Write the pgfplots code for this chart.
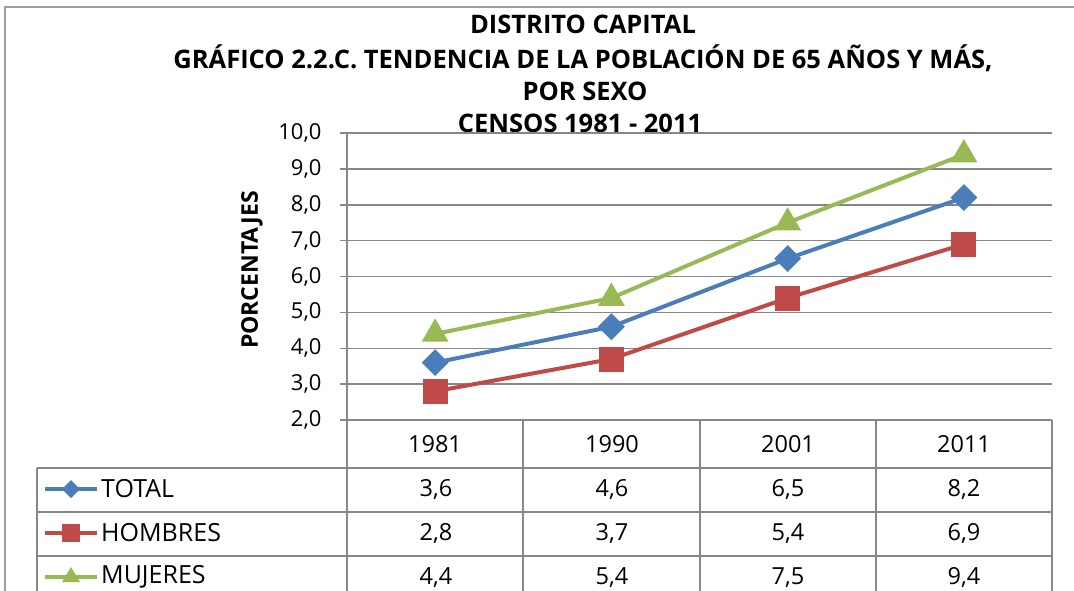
\documentclass[border=0pt]{standalone}
\usepackage{pgfplots}
\pgfplotsset{compat=1.18}
\usepackage{fontspec}
\setmainfont{Open Sans}
\definecolor{cTot}{HTML}{4A7EBB}
\definecolor{cHom}{HTML}{BE4B48}
\definecolor{cMuj}{HTML}{98B954}
\definecolor{grd}{HTML}{878787}

\pgfplotstableread{
x    tot  hom  muj
0.5  3.6  2.8  4.4
1.5  4.6  3.7  5.4
2.5  6.5  5.4  7.5
3.5  8.2  6.9  9.4
}\datos

\begin{document}
\begin{tikzpicture}[x=1bp,y=1bp]
\useasboundingbox (0,0) rectangle (1074,-591);
% outer frame
\draw[grd!80, line width=1.5bp] (5,-620) -- (5,-7) -- (1090,-7);
% title
\tikzset{ttl/.style={font=\bfseries\fontsize{25.5bp}{30bp}\selectfont, inner sep=0pt}}
\node[ttl] at (583,-24) {DISTRITO CAPITAL};
\node[ttl] at (583,-58) {GRÁFICO 2.2.C. TENDENCIA DE LA POBLACIÓN DE 65 AÑOS Y MÁS,};
\node[ttl] at (585,-91) {POR SEXO};
\node[ttl] at (580,-123) {CENSOS 1981 - 2011};
% y label
\node[font=\bfseries\fontsize{23bp}{27bp}\selectfont, rotate=90] at (252,-270) {PORCENTAJES};

\begin{axis}[
  at={(347bp,-420bp)}, anchor=south west,
  scale only axis, width=705bp, height=287bp,
  xmin=0, xmax=4, ymin=2, ymax=10,
  ytick={2,3,...,10},
  hide x axis,
  axis y line*=left,
  y axis line style={-, grd, line width=1.5bp},
  ymajorgrids,
  grid style={grd, line width=1.5bp},
  major tick style={grd, line width=1.5bp},
  tick align=outside,
  major tick length=7bp,
  yticklabel style={font=\fontsize{22bp}{26bp}\selectfont, xshift=-15bp, /pgf/number format/.cd, fixed, fixed zerofill, precision=1, use comma},
  /pgf/number format/assume math mode=true,
  clip=false,
]
\addplot[cTot, line width=4bp, mark=square*, mark size=7.5bp, mark options={rotate=45, solid}] table[x=x, y=tot] {\datos};
\addplot[cHom, line width=4bp, mark=square*, mark size=10.5bp] table[x=x, y=hom] {\datos};
\addplot[cMuj, line width=4bp, mark=triangle*, mark size=11.5bp] table[x=x, y=muj] {\datos};
\end{axis}

% data table
\begin{scope}[grd, line width=1.5bp]
\foreach \xx in {347,523,700,876,1052} {\draw (\xx,-420) -- (\xx,-610);}
\foreach \yy in {-468,-512,-556} {\draw (37,\yy) -- (1052,\yy);}
\draw (37,-468) -- (37,-610);
\end{scope}
\begin{scope}[every node/.style={font=\fontsize{23.5bp}{27bp}\selectfont, black}]
\node at (435,-444) {1981};
\node at (612,-444) {1990};
\node at (788,-444) {2001};
\node at (964,-444) {2011};
\node at (436,-490) {3,6}; \node at (612,-490) {4,6}; \node at (788,-490) {6,5}; \node at (964,-490) {8,2};
\node at (436,-534) {2,8}; \node at (612,-534) {3,7}; \node at (788,-534) {5,4}; \node at (964,-534) {6,9};
\node at (436,-578) {4,4}; \node at (612,-578) {5,4}; \node at (788,-578) {7,5}; \node at (964,-578) {9,4};
\end{scope}
\begin{scope}[every node/.style={font=\fontsize{25bp}{29bp}\selectfont, black, anchor=west, inner sep=0pt}]
\node at (101,-489) {TOTAL};
\node at (101,-533) {HOMBRES};
\node at (101,-577) {MUJERES};
\end{scope}
% legend keys
\draw[cTot, line width=4bp] (45,-489) -- (97,-489);
\fill[cTot] (71,-480) -- (80,-489) -- (71,-498) -- (62,-489) -- cycle;
\draw[cHom, line width=4bp] (45,-533) -- (97,-533);
\fill[cHom] (62,-524) rectangle (80,-542);
\draw[cMuj, line width=4bp] (45,-577) -- (97,-577);
\fill[cMuj] (71,-567) -- (80,-582) -- (62,-582) -- cycle;
\end{tikzpicture}
\end{document}
